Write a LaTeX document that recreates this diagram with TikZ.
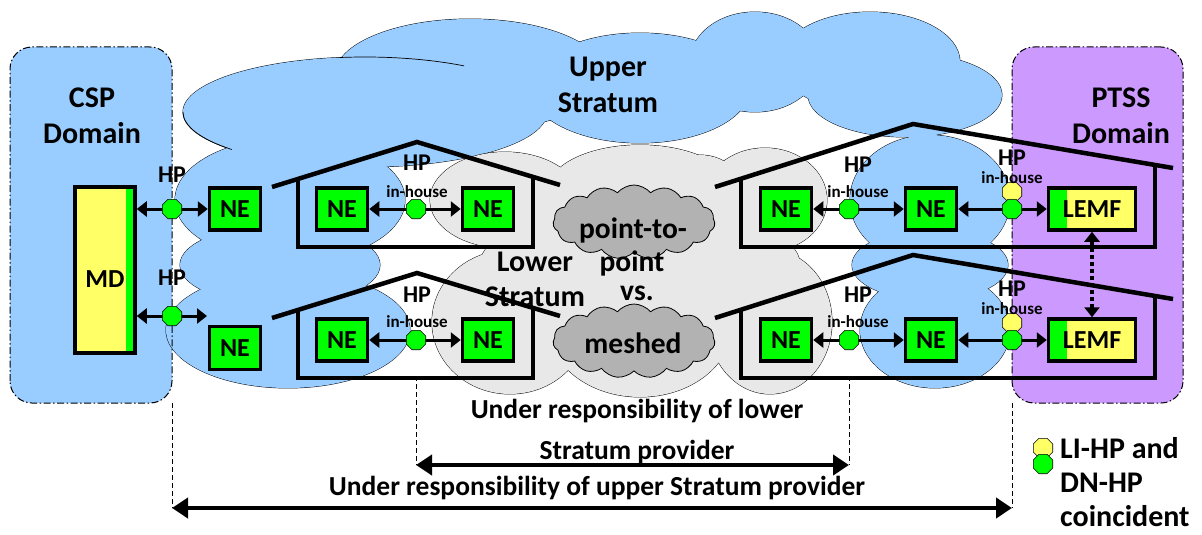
\documentclass[tikz,border=0pt]{standalone}
\usepackage{fontspec}
\setmainfont{Carlito}
\usetikzlibrary{arrows.meta,shapes.geometric,shapes.symbols}

\definecolor{upblue}{HTML}{99CCFF}
\definecolor{ptsspurple}{HTML}{CC99FF}
\definecolor{lowgray}{HTML}{E8E8E8}
\definecolor{meshgray}{HTML}{B2B2B2}
\definecolor{negreen}{HTML}{00FF00}
\definecolor{lemfyellow}{HTML}{FFFF66}

% puffs of the two stratum clouds: x/y/rx/ry
\newcommand\upperpuffs{365/112/182/55, 470/75/135/56, 640/88/110/55, 755/62/65/50, 870/62/90/50, 905/95/97/42, 290/200/115/62, 280/265/100/40, 288/330/122/58, 930/200/80/65, 930/265/78/35, 935/330/75/58}
\newcommand\lowerpuffs{505/200/75/48, 640/190/92/45, 700/205/50/50, 765/200/62/52, 640/265/160/60, 510/322/78/72, 640/325/92/72, 770/322/62/72}

\begin{document}
\begin{tikzpicture}[x=1pt, y=-1pt,
    puffline/.style={draw=black, line width=0.9pt},
    domainline/.style={line width=1pt, dash pattern=on 7pt off 2.5pt on 1.5pt off 2.5pt},
    nebox/.style={draw, line width=3.5pt, fill=negreen, minimum width=51pt, minimum height=42pt, inner sep=0pt, font=\fontsize{26}{28}\selectfont\bfseries},
    lemfbox/.style={nebox, fill=lemfyellow, minimum width=87pt,
      path picture={\fill[negreen] (path picture bounding box.south west) rectangle ([xshift=18pt]path picture bounding box.north west);}},
    hpoct/.style={regular polygon, regular polygon sides=8, minimum size=21pt, inner sep=0pt, draw, line width=0.6pt, fill=negreen},
    lioct/.style={hpoct, fill=lemfyellow},
    hplbl/.style={font=\fontsize{24}{26}\selectfont\bfseries, inner sep=0pt},
    inhouse/.style={font=\fontsize{17}{19}\selectfont\bfseries, inner sep=0pt},
    biglbl/.style={font=\fontsize{30}{36}\selectfont\bfseries, align=center, inner sep=0pt, anchor=north},
    cloudtxt/.style={font=\fontsize{29.5}{30}\selectfont\bfseries, inner sep=0pt, anchor=base},
    notetxt/.style={font=\fontsize{27.5}{29}\selectfont\bfseries, inner sep=0pt, anchor=base},
    houseline/.style={line width=4.5pt},
    hparrow/.style={line width=3pt, {Triangle[length=10pt,width=15pt]}-{Triangle[length=10pt,width=15pt]}},
    spanarrow/.style={line width=4pt, {Triangle[length=16pt,width=20pt]}-{Triangle[length=16pt,width=20pt]}},
    guide/.style={line width=0.8pt, dash pattern=on 5pt off 3pt},
    smallcloud/.style={cloud, cloud puffs=15, cloud puff arc=100, aspect=2.2, draw, line width=0.8pt, fill=meshgray, minimum width=162pt, minimum height=74pt, inner sep=0pt}]

\useasboundingbox (0,0) rectangle (1202,535);

% CSP domain (border comes later)
\node[fill=upblue, rounded corners=22pt, minimum width=162pt, minimum height=356pt, inner sep=0pt, outer sep=0pt] (csp) at (91,225) {};

% Upper stratum
\foreach \cx/\cy/\rx/\ry in \upperpuffs
  \draw[puffline, fill=upblue] (\cx,\cy) ellipse [x radius=\rx pt, y radius=\ry pt];
\foreach \cx/\cy/\rx/\ry in \upperpuffs
  \fill[upblue] (\cx,\cy) ellipse [x radius=\rx pt, y radius=\ry pt];
% a few inner folds
\draw[line width=0.7pt] (365,112) ++(98:182pt and 55pt) arc[start angle=98, end angle=57, x radius=182pt, y radius=55pt];
\draw[line width=0.7pt] (365,112) ++(180:182pt and 55pt) arc[start angle=180, end angle=223, x radius=182pt, y radius=55pt];

% Lower stratum
\foreach \cx/\cy/\rx/\ry in \lowerpuffs
  \draw[puffline, fill=lowgray] (\cx,\cy) ellipse [x radius=\rx pt, y radius=\ry pt];
\foreach \cx/\cy/\rx/\ry in \lowerpuffs
  \fill[lowgray] (\cx,\cy) ellipse [x radius=\rx pt, y radius=\ry pt];

% PTSS domain
\node[fill=ptsspurple, draw, domainline, rounded corners=22pt, minimum width=171pt, minimum height=356pt, inner sep=0pt, outer sep=0pt] (ptss) at (1097.5,225) {};
\draw[domainline, rounded corners=22pt] (csp.south west) rectangle (csp.north east);

% Houses
\foreach \dy in {0,131} {
  \draw[houseline] (272,187+\dy) -- (417,142+\dy) -- (560,185+\dy);
  \draw[houseline] (298,178+\dy) -- (298,247+\dy) -- (533,247+\dy) -- (533,177+\dy);
  \draw[houseline] (715,187+\dy) -- (913,124+\dy) -- (1173,168+\dy);
  \draw[houseline] (741,179+\dy) -- (741,247+\dy) -- (1155,247+\dy) -- (1155,165+\dy);
}

% point-to-point vs. meshed
\node[smallcloud] (p2pcloud) at (634,222) {};
\node[smallcloud] (meshcloud) at (634,341) {};
\node[cloudtxt] (p2ptxt) at (633,238) {point-to-};
\node[cloudtxt] (pointtxt) at (632,271) {point};
\node[cloudtxt] (vstxt) at (637,300) {vs.};
\node[cloudtxt] (meshtxt) at (633,353) {meshed};

% Titles
\node[biglbl] (csplbl) at (92,88) {CSP\\Domain};
\node[biglbl] (ptsslbl) at (1121,88) {PTSS\\Domain};
\node[biglbl] (upperlbl) at (608,57) {Upper\\Stratum};
\node[biglbl, font=\fontsize{30}{35}\selectfont\bfseries] (lowerlbl) at (535,252) {Lower\\Stratum};

% Network elements
\node[nebox, fill=lemfyellow, minimum width=60pt, minimum height=166pt,
  path picture={\fill[negreen] ([xshift=-9pt]path picture bounding box.south east) rectangle (path picture bounding box.north east);}] (md) at (105,270) {};
\node[font=\fontsize{26}{28}\selectfont\bfseries, inner sep=0pt] (mdtxt) at (105,279) {MD};
\node[nebox] (ne1) at (235,209) {NE};
\node[nebox, minimum height=43pt] (ne2) at (235,348) {NE};
\node[nebox] (nea) at (342,209) {NE};
\node[nebox] (neb) at (488,209) {NE};
\node[nebox] (nec) at (342,340) {NE};
\node[nebox] (ned) at (488,340) {NE};
\node[nebox] (nee) at (786,209) {NE};
\node[nebox] (nef) at (931,209) {NE};
\node[nebox] (neg) at (786,340) {NE};
\node[nebox] (neh) at (931,340) {NE};
\node[lemfbox] (lemf1) at (1092,209) {LEMF};
\node[lemfbox] (lemf2) at (1092,340) {LEMF};

% Handover links
\coordinate (mdend) at (207,316);
\draw[hparrow] (md.east |- ne1) -- (ne1);
\draw[hparrow] (md.east |- mdend) -- (mdend);
\draw[hparrow] (nea) -- (neb);
\draw[hparrow] (nec) -- (ned);
\draw[hparrow] (nee) -- (nef);
\draw[hparrow] (nef) -- (lemf1);
\draw[hparrow] (neg) -- (neh);
\draw[hparrow] (neh) -- (lemf2);
\draw[hparrow, line width=3.5pt, dash pattern=on 3.5pt off 3.5pt] (lemf1) -- (lemf2);

% Handover points
\node[hpoct] (hp1) at (172,209) {};
\node[hpoct] (hp2) at (172,316) {};
\node[hpoct] (hp3) at (416,209) {};
\node[hpoct] (hp4) at (416,340) {};
\node[hpoct] (hp5) at (849,209) {};
\node[lioct] (li1) at (1012,192) {};
\node[hpoct] (hp6) at (1012,209) {};
\node[hpoct] (hp7) at (849,340) {};
\node[lioct] (li2) at (1012,323) {};
\node[hpoct] (hp8) at (1012,340) {};

\node[hplbl] (hplbl1) at (172,175) {HP};
\node[hplbl] (hplbl2) at (172,278) {HP};
\node[hplbl] (hplbl3) at (417,163) {HP};
\node[inhouse] (inh3) at (417,192) {in-house};
\node[hplbl] (hplbl4) at (417,295) {HP};
\node[inhouse] (inh4) at (417,322) {in-house};
\node[hplbl] (hplbl5) at (858,165) {HP};
\node[inhouse] (inh5) at (858,192) {in-house};
\node[hplbl] (hplbl6) at (1012,158) {HP};
\node[inhouse] (inh6) at (1012,178) {in-house};
\node[hplbl] (hplbl7) at (858,295) {HP};
\node[inhouse] (inh7) at (858,322) {in-house};
\node[hplbl] (hplbl8) at (1012,289) {HP};
\node[inhouse] (inh8) at (1012,309) {in-house};

% Responsibility spans
\coordinate (lowL) at (416,465);
\coordinate (lowR) at (849,465);
\coordinate (upL) at (172,508);
\coordinate (upR) at (1012,508);
\draw[guide] ([yshift=-26pt]hp4.south) -- (lowL);
\draw[guide] ([yshift=-26pt]hp7.south) -- (lowR);
\draw[guide] (csp.south east) -- (upL);
\draw[guide] (ptss.south west) -- (upR);
\draw[spanarrow] (lowL) -- (lowR);
\draw[spanarrow] (upL) -- (upR);

\node[notetxt] (lownote1) at (637,418) {Under responsibility of lower};
\node[notetxt] (lownote2) at (637,459) {Stratum provider};
\node[notetxt] (upnote) at (597,495) {Under responsibility of upper Stratum provider};

% Legend
\node[lioct] (lgy) at (1043,448) {};
\node[hpoct] (lgg) at (1043,464) {};
\node[font=\fontsize{30}{34}\selectfont\bfseries, align=left, anchor=north west, inner sep=0pt] (legend) at (1060,437) {LI-HP and\\DN-HP\\coincident};
\end{tikzpicture}
\end{document}
